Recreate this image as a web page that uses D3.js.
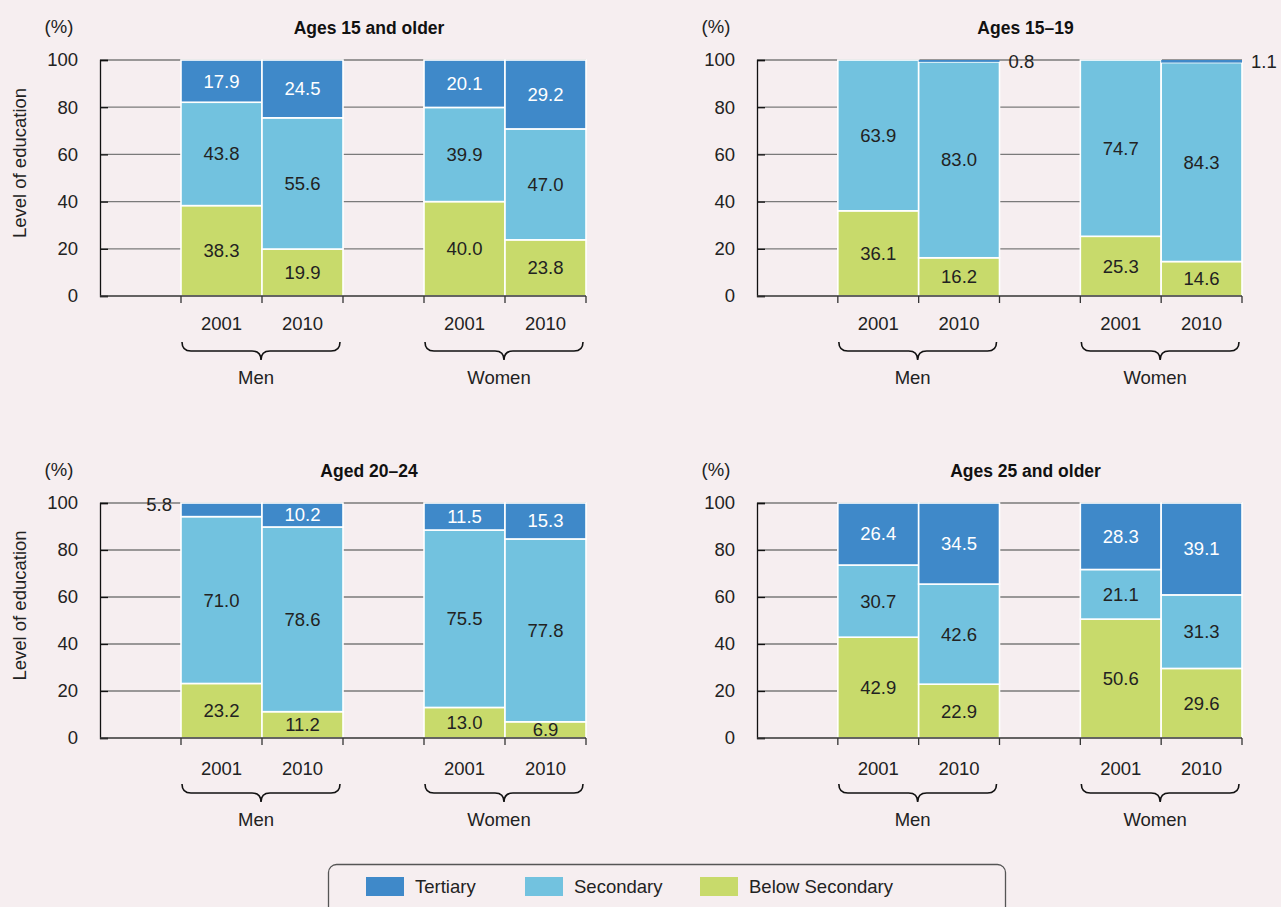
<!DOCTYPE html>
<html>
<head>
<meta charset="utf-8">
<script src="https://cdn.jsdelivr.net/npm/d3@7"></script>
<style>
  html, body { margin: 0; padding: 0; background: #f6eef0; }
  svg { display: block; font-family: "Liberation Sans", Arial, sans-serif; }
</style>
</head>
<body>
<svg id="chart" width="1281" height="907"></svg>
<script>
// ---------------- DATA ----------------
const panelTitles = ["Ages 15 and older", "Ages 15\u201319", "Aged 20\u201324", "Ages 25 and older"];
const groups = ["Men", "Women"];
const years = ["2001", "2010"];
const seriesNames = ["Tertiary", "Secondary", "Below Secondary"];
const yTicks = [0, 20, 40, 60, 80, 100];
// order of bars in each panel: Men 2001, Men 2010, Women 2001, Women 2010
const belowSecondary = [
  [38.3, 19.9, 40.0, 23.8],
  [36.1, 16.2, 25.3, 14.6],
  [23.2, 11.2, 13.0, 6.9],
  [42.9, 22.9, 50.6, 29.6]
];
const secondary = [
  [43.8, 55.6, 39.9, 47.0],
  [63.9, 83.0, 74.7, 84.3],
  [71.0, 78.6, 75.5, 77.8],
  [30.7, 42.6, 21.1, 31.3]
];
const tertiary = [
  [17.9, 24.5, 20.1, 29.2],
  [0, 0.8, 0, 1.1],
  [5.8, 10.2, 11.5, 15.3],
  [26.4, 34.5, 28.3, 39.1]
];

// ---------------- STYLE / LAYOUT ----------------
const colors = { "Tertiary": "#3f89c9", "Secondary": "#72c2df", "Below Secondary": "#c8da6b" };
const labelColors = { "Tertiary": "#ffffff", "Secondary": "#222222", "Below Secondary": "#222222" };
const panels = [
  { x0: 100, x1: 586, yTop: 60, yBot: 296, yTitle: true, yearDy: 34 },
  { x0: 757, x1: 1242, yTop: 60, yBot: 296, yTitle: false, yearDy: 34 },
  { x0: 100, x1: 586, yTop: 503, yBot: 738, yTitle: true, yearDy: 37 },
  { x0: 757, x1: 1242, yTop: 503, yBot: 738, yTitle: false, yearDy: 37 }
];
const FS = 18.5;

const svg = d3.select("#chart");
svg.append("rect").attr("width", 1281).attr("height", 907).attr("fill", "#f6eef0");

const slots = ["g0", "Men|2001", "Men|2010", "g1", "Women|2001", "Women|2010"];
const barKeys = ["Men|2001", "Men|2010", "Women|2001", "Women|2010"];

panels.forEach((p, pi) => {
  const g = svg.append("g");
  const x = d3.scaleBand().domain(slots).range([p.x0, p.x1]).padding(0);
  const y = d3.scaleLinear().domain([0, 100]).range([p.yBot, p.yTop]);

  // gridlines
  g.append("g").selectAll("line").data(yTicks.filter(t => t > 0)).join("line")
    .attr("x1", p.x0).attr("x2", p.x1)
    .attr("y1", d => y(d)).attr("y2", d => y(d))
    .attr("stroke", "#7a7a7a").attr("stroke-width", 1.3);

  // y axis
  const ya = g.append("g").attr("transform", `translate(${p.x0},0)`)
    .call(d3.axisRight(y).tickValues(yTicks).tickSize(8).tickFormat(""));
  ya.select(".domain").attr("stroke", "#111").attr("stroke-width", 1.3);
  ya.selectAll(".tick line").attr("stroke", "#111").attr("stroke-width", 1.3);

  // y tick labels
  g.append("g").selectAll("text").data(yTicks).join("text")
    .attr("x", p.x0 - 22).attr("y", d => y(d)).attr("dy", "0.35em")
    .attr("text-anchor", "end").attr("font-size", FS).attr("fill", "#222")
    .text(d => d);

  // (%)
  g.append("text").attr("x", p.x0 - 41).attr("y", p.yTop - 33).attr("dy", "0.35em")
    .attr("text-anchor", "middle").attr("font-size", FS).attr("fill", "#222").text("(%)");

  // title
  g.append("text").attr("x", (p.x0 + p.x1) / 2 + 26).attr("y", p.yTop - 32).attr("dy", "0.35em")
    .attr("text-anchor", "middle").attr("font-size", 17.5).attr("font-weight", "bold")
    .attr("fill", "#111").text(panelTitles[pi]);

  // y axis title
  if (p.yTitle) {
    const cy = (p.yTop + p.yBot) / 2 - 15;
    g.append("text").attr("transform", `translate(20,${cy}) rotate(-90)`).attr("dy", "0.35em")
      .attr("text-anchor", "middle").attr("font-size", FS).attr("fill", "#222").text("Level of education");
  }

  // stacked data
  const table = barKeys.map((k, i) => ({
    key: k,
    "Below Secondary": belowSecondary[pi][i],
    "Secondary": secondary[pi][i],
    "Tertiary": tertiary[pi][i]
  }));
  const stacked = d3.stack().keys(["Below Secondary", "Secondary", "Tertiary"])(table);

  const segs = [];
  stacked.forEach(layer => {
    layer.forEach((d, i) => {
      segs.push({ series: layer.key, key: d.data.key, idx: i, v0: d[0], v1: d[1], val: d.data[layer.key] });
    });
  });

  g.append("g").selectAll("rect").data(segs.filter(s => s.val > 0)).join("rect")
    .attr("x", d => x(d.key)).attr("width", x.bandwidth())
    .attr("y", d => y(d.v1)).attr("height", d => y(d.v0) - y(d.v1))
    .attr("fill", d => colors[d.series])
    .attr("stroke", "#ffffff").attr("stroke-width", d => (y(d.v0) - y(d.v1)) < 4 ? 0 : 1.6);

  // value labels
  g.append("g").selectAll("text").data(segs.filter(s => s.val > 0)).join("text")
    .each(function(d) {
      const t = d3.select(this);
      const inside = d.val >= 6;
      if (inside) {
        t.attr("x", x(d.key) + x.bandwidth() / 2)
          .attr("y", (y(d.v0) + y(d.v1)) / 2).attr("text-anchor", "middle")
          .attr("fill", labelColors[d.series]);
      } else {
        const first = d.idx % 2 === 0;
        t.attr("x", first ? x(d.key) - 9 : x(d.key) + x.bandwidth() + 9)
          .attr("y", y(d.v1) + 2)
          .attr("text-anchor", first ? "end" : "start")
          .attr("fill", "#222");
      }
      t.attr("dy", "0.35em").attr("font-size", FS).text(d3.format(".1f")(d.val));
    });

  // x axis
  g.append("line").attr("x1", p.x0).attr("x2", p.x1).attr("y1", p.yBot).attr("y2", p.yBot)
    .attr("stroke", "#333").attr("stroke-width", 1.3);
  g.append("g").selectAll("line").data(slots.slice(1)).join("line")
    .attr("x1", d => x(d)).attr("x2", d => x(d))
    .attr("y1", p.yBot).attr("y2", p.yBot + 7)
    .attr("stroke", "#333").attr("stroke-width", 1.3);
  g.append("line").attr("x1", p.x1).attr("x2", p.x1).attr("y1", p.yBot).attr("y2", p.yBot + 7)
    .attr("stroke", "#333").attr("stroke-width", 1.3);

  // year labels
  g.append("g").selectAll("text").data(barKeys).join("text")
    .attr("x", d => x(d) + x.bandwidth() / 2).attr("y", p.yBot + p.yearDy)
    .attr("text-anchor", "middle").attr("font-size", FS).attr("fill", "#222")
    .text(d => d.split("|")[1]);

  // braces and group labels
  groups.forEach(gr => {
    const a = x(gr + "|" + years[0]) + 1;
    const b = x(gr + "|" + years[1]) + x.bandwidth() - 3;
    const m = (a + b) / 2;
    const t = p.yBot + 46, h = 18, r = 9;
    const mid = t + h / 2;
    const path = `M${a},${t} Q${a},${mid} ${a + r},${mid} L${m - r},${mid} Q${m},${mid} ${m},${t + h}
                  Q${m},${mid} ${m + r},${mid} L${b - r},${mid} Q${b},${mid} ${b},${t}`;
    g.append("path").attr("d", path).attr("fill", "none").attr("stroke", "#111").attr("stroke-width", 1.6);
    g.append("text").attr("x", m - 5).attr("y", p.yBot + 88)
      .attr("text-anchor", "middle").attr("font-size", FS).attr("fill", "#222").text(gr);
  });
});

// ---------------- LEGEND ----------------
const lg = svg.append("g");
lg.append("rect").attr("x", 328.5).attr("y", 864.5).attr("width", 677).attr("height", 60)
  .attr("rx", 8).attr("fill", "none").attr("stroke", "#555").attr("stroke-width", 1.3);
const legendX = [366, 525, 700];
seriesNames.forEach((s, i) => {
  lg.append("rect").attr("x", legendX[i]).attr("y", 877).attr("width", 38).attr("height", 19)
    .attr("fill", colors[s]);
  lg.append("text").attr("x", legendX[i] + 49).attr("y", 886.5).attr("dy", "0.35em")
    .attr("font-size", FS).attr("fill", "#222").text(s);
});
</script>
</body>
</html>
